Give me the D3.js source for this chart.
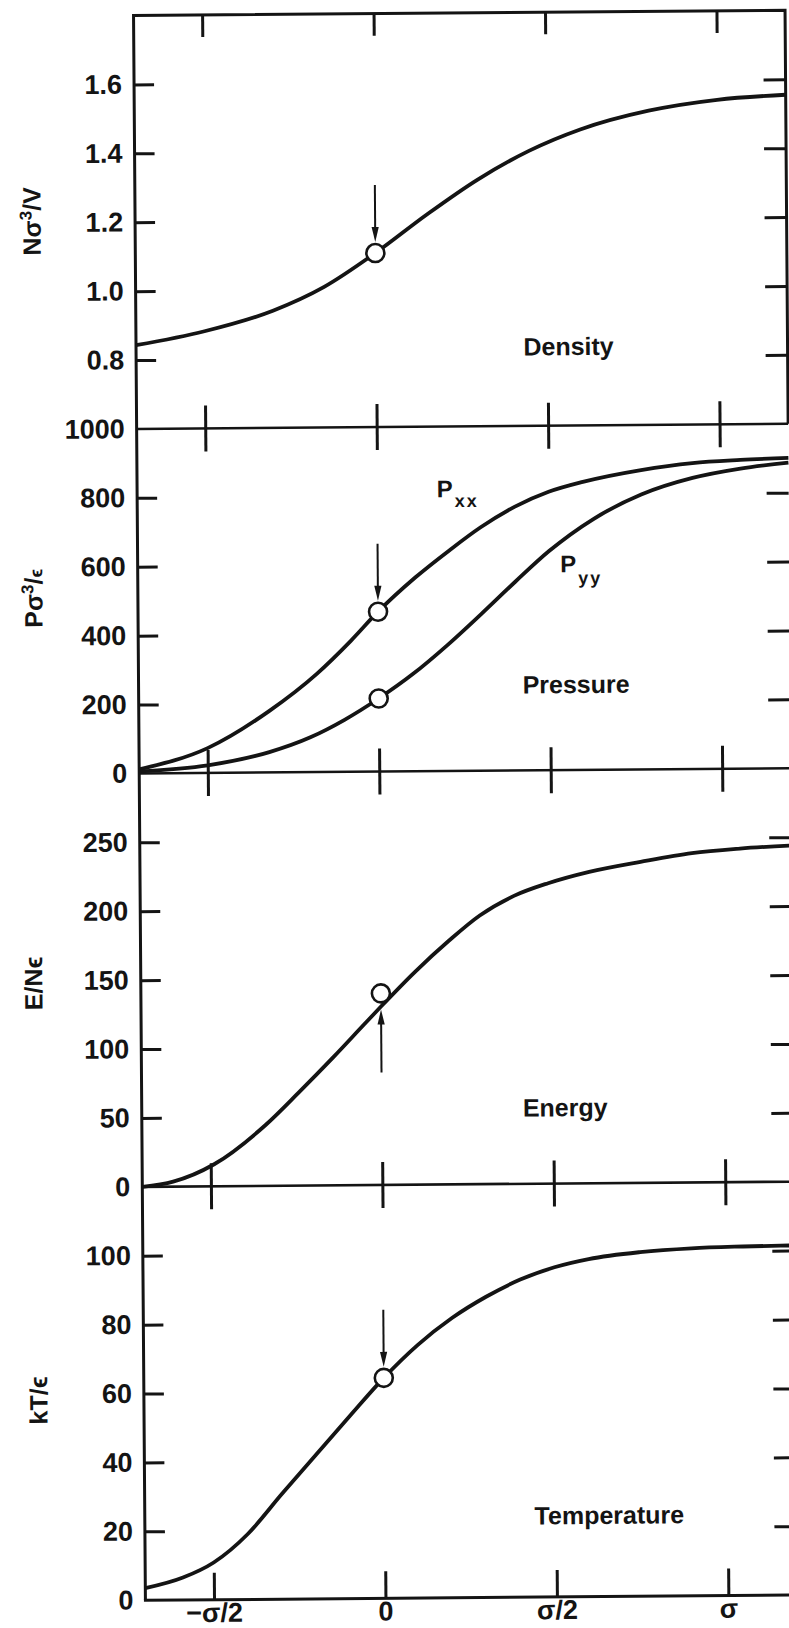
<!DOCTYPE html>
<html lang="en">
<head>
<meta charset="UTF-8">
<title>Density, pressure, energy and temperature profiles</title>
<style>
    body { margin: 0; background: #fff; }
    text { font-family: 'Liberation Sans', 'DejaVu Sans', sans-serif; font-weight: bold; fill: #141414; }
    .frame { stroke: #141414; stroke-width: 3; fill: none; }
    .divider { stroke: #141414; stroke-width: 2.6; fill: none; }
    .ticks line { stroke: #141414; stroke-width: 3; }
    .labels text { font-size: 27px; }
    .curve { stroke: #141414; stroke-width: 3.8; fill: none; }
    .marker { stroke: #141414; stroke-width: 2.6; fill: #fff; }
    .arrow { stroke: #141414; stroke-width: 2; }
    .arrowhead { fill: #141414; stroke: none; }
    .name { font-size: 25px; }
    .ytitle { font-size: 25px; }
</style>
</head>
<body>
<script src="https://d3js.org/d3.v7.min.js"></script>
<script>

    const width = 789, height = 1628;

    // x axis, in units of sigma
    const xTickValues = [-0.5, 0, 0.5, 1];
    const xTickLabels = ['\u2212\u03c3/2', '0', '\u03c3/2', '\u03c3'];

    // y tick labels and tick marks of each panel
    const densityLabels = [0.8, 1.0, 1.2, 1.4, 1.6];
    const densityTicks = [0.8, 1.0, 1.2, 1.4, 1.6];
    const pressureLabels = [0, 200, 400, 600, 800, 1000];
    const pressureTicks = [200, 400, 600, 800];
    const energyLabels = [0, 50, 100, 150, 200, 250];
    const energyTicks = [50, 100, 150, 200, 250];
    const tempLabels = [0, 20, 40, 60, 80, 100];
    const tempTicks = [20, 40, 60, 80, 100];

    // curves
    const densityX = [-0.70, -0.50, -0.30, -0.15, 0, 0.15, 0.30, 0.45, 0.60, 0.80, 1.00, 1.20];
    const densityV = [0.843, 0.882, 0.940, 1.008, 1.105, 1.215, 1.316, 1.398, 1.459, 1.512, 1.542, 1.555];

    const pxxX = [-0.70, -0.50, -0.32, -0.18, -0.08, 0, 0.11, 0.21, 0.30, 0.40, 0.50, 0.60, 0.77, 0.92, 1.06, 1.20];
    const pxxV = [12, 72, 178, 285, 380, 464, 563, 641, 706, 765, 808, 836, 869, 888, 896, 901];

    const pyyX = [-0.70, -0.50, -0.32, -0.20, -0.10, 0, 0.10, 0.20, 0.30, 0.40, 0.50, 0.63, 0.77, 0.92, 1.06, 1.20];
    const pyyV = [6, 22, 59, 101, 151, 212, 282, 364, 454, 547, 636, 728, 798, 845, 871, 887];

    const energyX = [-0.70, -0.61, -0.49, -0.34, -0.24, -0.14, -0.05, 0, 0.10, 0.20, 0.29, 0.39, 0.49, 0.61, 0.76, 0.91, 1.05, 1.20];
    const energyV = [0, 3.6, 16, 44, 68, 93, 116.5, 129.5, 154.5, 177, 195, 209, 218, 226, 233, 239, 242, 244];

    const tempX = [-0.70, -0.59, -0.50, -0.40, -0.30, -0.20, -0.10, 0, 0.10, 0.20, 0.30, 0.40, 0.50, 0.60, 0.75, 0.90, 1.05, 1.20];
    const tempV = [3.5, 6.5, 10.8, 19, 30.5, 41.8, 53, 64, 73.5, 81.2, 87.3, 92.2, 95.7, 98, 99.9, 100.9, 101.3, 101.5];

    // open circles (x, value)
    const densityMark = [0, 1.105];
    const pxxMark = [0, 464];
    const pyyMark = [0, 212];
    const energyMark = [0, 139];
    const tempMark = [0, 64];

    const frameLeft = 139.5, frameRight = 791, frameTop = 13, step = 68.9;

    let svg = d3.select('body').append('svg')
        .attr('width', width)
        .attr('height', height);

    svg.append('rect').attr('width', width).attr('height', height).style('fill', '#fff');

    // the printed figure sits slightly askew on the page
    let chart = svg.append('g')
        .attr('transform', 'matrix(1,-0.008,0.0075,1,' + (-0.0075 * 808) + ',' + (0.008 * 460) + ')');

    let x = d3.scaleLinear().domain([-0.70, 1.20]).range([frameLeft, frameRight]);

    const panels = [
        {domain: [0.6, 1.8], steps: 6, labels: densityLabels, ticks: densityTicks, fmt: d3.format('.1f'),
            curves: [[densityX, densityV]], marks: [densityMark], arrow: [densityMark, 'down'],
            name: 'Density', namePos: [572, 356],
            title: [{t: 'N'}, {t: '\u03c3'}, {t: '3', size: 17, dy: -9}, {t: '/V'}], titlePos: [45, 218]},
        {domain: [0, 1000], steps: 5, labels: pressureLabels, ticks: pressureTicks, fmt: d3.format('d'),
            curves: [[pxxX, pxxV], [pyyX, pyyV]], marks: [pxxMark, pyyMark], arrow: [pxxMark, 'down'],
            name: 'Pressure', namePos: [577, 694],
            title: [{t: 'P'}, {t: '\u03c3'}, {t: '3', size: 17, dy: -9}, {t: '/'}, {t: '\u03f5', size: 18}], titlePos: [44, 595]},
        {domain: [0, 300], steps: 6, labels: energyLabels, ticks: energyTicks, fmt: d3.format('d'),
            curves: [[energyX, energyV]], marks: [energyMark], arrow: [[0, energyV[energyX.indexOf(0)]], 'up'],
            name: 'Energy', namePos: [563, 1117],
            title: [{t: 'E/N'}, {t: '\u03f5'}], titlePos: [41, 980]},
        {domain: [0, 120], steps: 6, labels: tempLabels, ticks: tempTicks, fmt: d3.format('d'),
            curves: [[tempX, tempV]], marks: [tempMark], arrow: [tempMark, 'down'],
            name: 'Temperature', namePos: [604, 1525],
            title: [{t: 'kT/'}, {t: '\u03f5'}], titlePos: [43, 1397]}
    ];

    let y0 = frameTop;
    panels.forEach(function(p) {
        p.top = y0;
        p.bottom = y0 + p.steps * step;
        y0 = p.bottom;
        p.y = d3.scaleLinear().domain(p.domain).range([p.bottom, p.top]);
    });
    const frameBottom = y0;

    let line = d3.line().curve(d3.curveMonotoneX);

    panels.forEach(function(p, i) {
        let g = chart.append('g');
        let y = p.y;

        // y labels on the left
        g.append('g')
            .attr('class', 'labels')
            .attr('transform', 'translate(' + frameLeft + ',0)')
            .call(d3.axisLeft(y).tickValues(p.labels).tickFormat(p.fmt).tickSize(0).tickPadding(12))
            .call(function(a) { a.select('.domain').remove(); });

        // inward ticks, both sides
        g.append('g')
            .attr('class', 'ticks')
            .attr('transform', 'translate(' + frameLeft + ',0)')
            .call(d3.axisRight(y).tickValues(p.ticks).tickSize(20).tickFormat(''))
            .call(function(a) { a.select('.domain').remove(); });

        g.append('g')
            .attr('class', 'ticks')
            .attr('transform', 'translate(' + frameRight + ',0)')
            .call(d3.axisLeft(y).tickValues(p.ticks).tickSize(22).tickFormat(''))
            .call(function(a) { a.select('.domain').remove(); });

        // x ticks along the top edge of the panel
        if (i === 0) {
            g.append('g')
                .attr('class', 'ticks')
                .attr('transform', 'translate(0,' + p.top + ')')
                .call(d3.axisBottom(x).tickValues(xTickValues).tickSize(22).tickFormat(''))
                .call(function(a) { a.select('.domain').remove(); });
        } else {
            g.append('line').attr('class', 'divider')
                .attr('x1', frameLeft).attr('x2', frameRight)
                .attr('y1', p.top).attr('y2', p.top);
            [d3.axisBottom, d3.axisTop].forEach(function(axis) {
                g.append('g')
                    .attr('class', 'ticks')
                    .attr('transform', 'translate(0,' + p.top + ')')
                    .call(axis(x).tickValues(xTickValues).tickSize(23).tickFormat(''))
                    .call(function(a) { a.select('.domain').remove(); });
            });
        }

        // curves
        p.curves.forEach(function(c) {
            g.append('path')
                .attr('class', 'curve')
                .attr('d', line(d3.zip(c[0], c[1]).map(function(d) { return [x(d[0]), y(d[1])]; })));
        });

        // arrow pointing at the marked state
        let ax = x(p.arrow[0][0]);
        let ay = y(p.arrow[0][1]);
        let from, tip;
        if (p.arrow[1] === 'down') {
            from = ay - 68;
            tip = ay - 11;
        } else {
            from = ay + 66;
            tip = ay + 3;
        }
        let dir = tip > from ? 1 : -1;
        g.append('line').attr('class', 'arrow')
            .attr('x1', ax).attr('x2', ax)
            .attr('y1', from).attr('y2', tip - dir * 10);
        g.append('path').attr('class', 'arrowhead')
            .attr('d', 'M' + (ax - 3.6) + ',' + (tip - dir * 15) + 'L' + (ax + 3.6) + ',' + (tip - dir * 15) + 'L' + ax + ',' + tip + 'Z');

        // open circles
        g.selectAll('circle')
            .data(p.marks)
            .enter().append('circle')
            .attr('class', 'marker')
            .attr('cx', function(d) { return x(d[0]); })
            .attr('cy', function(d) { return y(d[1]); })
            .attr('r', 9);

        // panel name
        g.append('text')
            .attr('class', 'name')
            .attr('x', p.namePos[0])
            .attr('y', p.namePos[1])
            .attr('text-anchor', 'middle')
            .text(p.name);

        // rotated y title
        let t = g.append('text')
            .attr('class', 'ytitle')
            .attr('text-anchor', 'middle')
            .attr('transform', 'translate(' + p.titlePos[0] + ',' + p.titlePos[1] + ') rotate(-90)');
        let shift = 0;
        p.title.forEach(function(part) {
            let s = t.append('tspan').text(part.t).attr('dy', (part.dy || 0) - shift);
            if (part.size) s.style('font-size', part.size + 'px');
            shift = part.dy || 0;
        });
    });

    // Pxx / Pyy labels
    [['P', 'xx', 439, 497, 10], ['P', 'yy', 562, 573, 12]].forEach(function(l) {
        let t = chart.append('text')
            .attr('x', l[2]).attr('y', l[3])
            .style('font-size', '24px');
        t.append('tspan').text(l[0]);
        t.append('tspan').text(l[1])
            .attr('dx', 2).attr('dy', l[4])
            .style('font-size', '18px')
            .style('letter-spacing', '2px');
    });

    // outer frame: left axis, top edge, and the right edge of the top panel
    chart.append('path')
        .attr('class', 'frame')
        .attr('d', 'M' + frameLeft + ',' + frameBottom + 'V' + frameTop + 'H' + frameRight + 'V' + panels[0].bottom);

    chart.append('g')
        .attr('class', 'ticks')
        .attr('transform', 'translate(0,' + frameBottom + ')')
        .call(d3.axisTop(x).tickValues(xTickValues).tickSize(27).tickFormat(''))
        .call(function(a) { a.select('.domain').remove(); });

    chart.append('line').attr('class', 'frame')
        .attr('x1', frameLeft - 1.5).attr('x2', frameRight)
        .attr('y1', frameBottom).attr('y2', frameBottom);

    chart.append('g')
        .attr('class', 'labels')
        .attr('transform', 'translate(0,' + frameBottom + ')')
        .call(d3.axisBottom(x).tickValues(xTickValues)
            .tickFormat(function(d, i) { return xTickLabels[i]; })
            .tickSize(0).tickPadding(3))
        .call(function(a) { a.select('.domain').remove(); });

</script>
</body>
</html>
